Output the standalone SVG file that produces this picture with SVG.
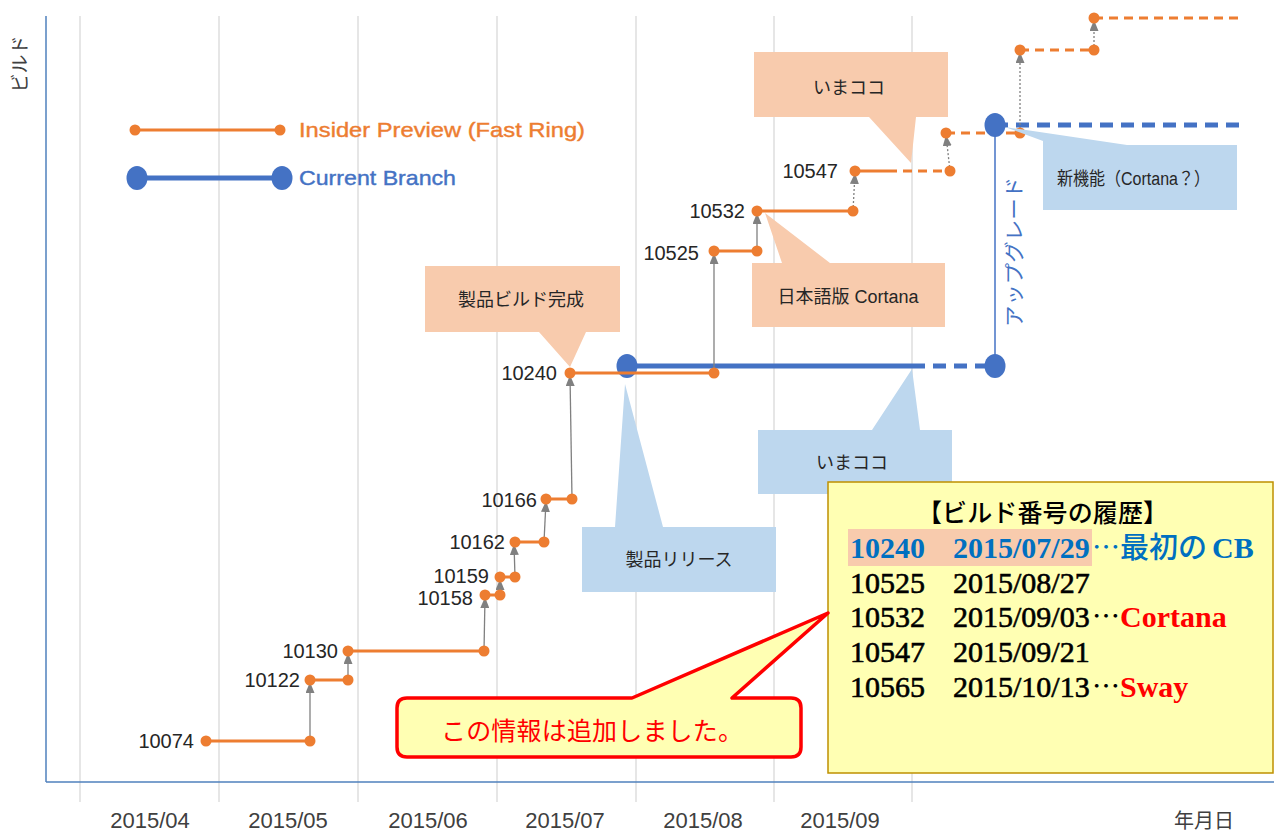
<svg xmlns="http://www.w3.org/2000/svg" width="1274" height="831" viewBox="0 0 1274 831" xml:lang="ja">
<defs>
<marker id="ah" markerUnits="userSpaceOnUse" viewBox="0 0 11 9" markerWidth="11" markerHeight="9" refX="11" refY="4.5" orient="auto">
<path d="M0,0 L11,4.5 L0,9 z" fill="#808080"/>
</marker>
<style>
.grid{stroke:#d9d9d9;stroke-width:1.3}
.axis{stroke:#4f81bd;stroke-width:1.5}
.o{stroke:#ed7d31;stroke-width:3;fill:none}
.od{stroke-dasharray:9 6}
.b{stroke:#4472c4;stroke-width:5;fill:none}
.bd{stroke-dasharray:13 8}
.dot{fill:#ed7d31}
.bdot{fill:#4472c4}
.arr{stroke:#808080;stroke-width:1.3;fill:none;marker-end:url(#ah)}
.arrd{stroke-dasharray:2 2}
.sans{font-family:"Liberation Sans","Noto Sans CJK JP",sans-serif}
.lbl{font-size:20px;fill:#262626;text-anchor:end}
.mon{font-size:22px;fill:#404040;text-anchor:middle}
.peach{fill:#f8cbad}
.blue{fill:#bdd7ee}
.ct{font-size:18px;fill:#262626;text-anchor:middle}
.tbl{font-family:"Liberation Serif","Noto Sans CJK JP",serif;font-size:30px;font-weight:normal;fill:#000;stroke:#000;stroke-width:0.6}
.tblb{fill:#0070c0;stroke:#0070c0;font-weight:bold;stroke-width:0}
.ell{font-family:"Noto Sans CJK JP",sans-serif;font-weight:normal;font-size:28px;stroke-width:0}
.red{fill:#ff0000;stroke:none;font-weight:bold}
</style>
</defs>

<g id="grid">
<line class="grid" x1="80" y1="16" x2="80" y2="802"/>
<line class="grid" x1="219" y1="16" x2="219" y2="802"/>
<line class="grid" x1="358" y1="16" x2="358" y2="802"/>
<line class="grid" x1="497" y1="16" x2="497" y2="802"/>
<line class="grid" x1="636" y1="16" x2="636" y2="802"/>
<line class="grid" x1="774" y1="16" x2="774" y2="802"/>
<line class="grid" x1="912" y1="16" x2="912" y2="802"/>
</g>
<g id="axes">
<line class="axis" x1="46" y1="16" x2="46" y2="782"/>
<line class="axis" x1="46" y1="782" x2="1274" y2="782"/>
<text class="sans" font-size="19" fill="#404040" text-anchor="middle" transform="translate(27,64) rotate(-90)">ビルド</text>
<g class="sans mon">
<text x="150" y="828">2015/04</text>
<text x="288" y="828">2015/05</text>
<text x="428" y="828">2015/06</text>
<text x="565" y="828">2015/07</text>
<text x="703" y="828">2015/08</text>
<text x="840" y="828">2015/09</text>
<text x="1204" y="828" style="font-size:20px">年月日</text>
</g>
</g>

<g id="legend">
<line class="o" x1="135" y1="130" x2="280" y2="130"/>
<circle class="dot" cx="135" cy="130" r="5.5"/>
<circle class="dot" cx="280" cy="130" r="5.5"/>
<text class="sans" x="299" y="137" font-size="21" fill="#ed7d31" stroke="#ed7d31" stroke-width="0.4" textLength="286" lengthAdjust="spacingAndGlyphs">Insider Preview (Fast Ring)</text>
<line class="b" x1="137" y1="178" x2="282" y2="178"/>
<ellipse class="bdot" cx="137" cy="178" rx="10.5" ry="12"/>
<ellipse class="bdot" cx="282" cy="178" rx="10.5" ry="12"/>
<text class="sans" x="299" y="185" font-size="21" fill="#4472c4" stroke="#4472c4" stroke-width="0.4" textLength="157" lengthAdjust="spacingAndGlyphs">Current Branch</text>
</g>

<g id="connectors">
<line class="b" x1="627" y1="366" x2="912" y2="366"/>
<line class="b bd" x1="912" y1="366" x2="995" y2="366"/>
<line class="b bd" x1="995" y1="125" x2="1240" y2="125"/>
<line x1="995" y1="125" x2="995" y2="366" stroke="#4472c4" stroke-width="1.5"/>
<ellipse class="bdot" cx="627" cy="366" rx="10.5" ry="12"/>
<ellipse class="bdot" cx="995" cy="366" rx="10.5" ry="12"/>

<line class="o" x1="206" y1="741" x2="310" y2="741"/>
<line class="o" x1="310" y1="680" x2="348" y2="680"/>
<line class="o" x1="348" y1="651" x2="484" y2="651"/>
<line class="o" x1="485" y1="595" x2="500" y2="595"/>
<line class="o" x1="500" y1="577" x2="515" y2="577"/>
<line class="o" x1="515" y1="542" x2="544" y2="542"/>
<line class="o" x1="546" y1="499" x2="572" y2="499"/>
<line class="o" x1="570" y1="373" x2="714" y2="373"/>
<line class="o" x1="714" y1="251" x2="757" y2="251"/>
<line class="o" x1="757" y1="211" x2="853" y2="211"/>
<line class="o" x1="855" y1="171" x2="888" y2="171"/>
<line class="o od" x1="888" y1="171" x2="950" y2="171"/>
<line class="o od" x1="946" y1="133" x2="1020" y2="133"/>
<line class="o od" x1="1020" y1="50" x2="1094" y2="50"/>
<line class="o od" x1="1094" y1="18" x2="1240" y2="18"/>
<ellipse class="bdot" cx="995" cy="125" rx="10.5" ry="12"/>

<line class="arr" x1="310" y1="741" x2="310" y2="682"/>
<line class="arr" x1="348" y1="680" x2="348" y2="653"/>
<line class="arr" x1="484" y1="651" x2="485" y2="597"/>
<line class="arr" x1="500" y1="595" x2="500" y2="579"/>
<line class="arr" x1="515" y1="577" x2="514" y2="544"/>
<line class="arr" x1="544" y1="542" x2="546" y2="501"/>
<line class="arr" x1="572" y1="499" x2="570" y2="375"/>
<line class="arr" x1="714" y1="373" x2="714" y2="253"/>
<line class="arr" x1="757" y1="251" x2="757" y2="213"/>
<line class="arr arrd" x1="853" y1="211" x2="855" y2="173"/>
<line class="arr arrd" x1="950" y1="171" x2="946" y2="135"/>
<line class="arr arrd" x1="1020" y1="133" x2="1020" y2="52"/>
<line class="arr arrd" x1="1094" y1="50" x2="1094" y2="20"/>
</g>

<g id="points">
<circle class="dot" cx="206" cy="741" r="5.5"/>
<circle class="dot" cx="310" cy="741" r="5.5"/>
<circle class="dot" cx="310" cy="680" r="5.5"/>
<circle class="dot" cx="348" cy="680" r="5.5"/>
<circle class="dot" cx="348" cy="651" r="5.5"/>
<circle class="dot" cx="484" cy="651" r="5.5"/>
<circle class="dot" cx="485" cy="595" r="5.5"/>
<circle class="dot" cx="500" cy="595" r="5.5"/>
<circle class="dot" cx="500" cy="577" r="5.5"/>
<circle class="dot" cx="515" cy="577" r="5.5"/>
<circle class="dot" cx="515" cy="542" r="5.5"/>
<circle class="dot" cx="544" cy="542" r="5.5"/>
<circle class="dot" cx="546" cy="499" r="5.5"/>
<circle class="dot" cx="572" cy="499" r="5.5"/>
<circle class="dot" cx="570" cy="373" r="5.5"/>
<circle class="dot" cx="714" cy="373" r="5.5"/>
<circle class="dot" cx="714" cy="251" r="5.5"/>
<circle class="dot" cx="757" cy="251" r="5.5"/>
<circle class="dot" cx="757" cy="211" r="5.5"/>
<circle class="dot" cx="853" cy="211" r="5.5"/>
<circle class="dot" cx="855" cy="171" r="5.5"/>
<circle class="dot" cx="950" cy="171" r="5.5"/>
<circle class="dot" cx="946" cy="133" r="5.5"/>
<circle class="dot" cx="1020" cy="133" r="5.5"/>
<circle class="dot" cx="1020" cy="50" r="5.5"/>
<circle class="dot" cx="1094" cy="50" r="5.5"/>
<circle class="dot" cx="1094" cy="18" r="5.5"/>
</g>

<g id="labels" class="sans lbl">
<text x="194" y="748">10074</text>
<text x="300" y="687">10122</text>
<text x="338" y="658">10130</text>
<text x="473" y="605">10158</text>
<text x="489" y="583">10159</text>
<text x="505" y="549">10162</text>
<text x="537" y="507">10166</text>
<text x="557" y="380">10240</text>
<text x="699" y="260">10525</text>
<text x="745" y="218">10532</text>
<text x="838" y="178">10547</text>
</g>

<text class="sans" font-size="20" fill="#4472c4" text-anchor="middle" textLength="150" lengthAdjust="spacingAndGlyphs" transform="translate(1022,252) rotate(-90)">アップグレード</text>

<g id="callout-imakoko-top">
<path class="peach" d="M754,52 H948 V117 H916 L911,163 L869,117 H754 z"/>
<text class="sans ct" x="849" y="94">いまココ</text>
</g>
<g id="callout-build">
<path class="peach" d="M425,266 H620 V332 H586 L570,367 L539,332 H425 z"/>
<text class="sans ct" x="521" y="306">製品ビルド完成</text>
</g>
<g id="callout-cortana-jp">
<path class="peach" d="M752,263 H782 L765,213 L830,263 H945 V327 H752 z"/>
<text class="sans ct" x="848" y="303">日本語版 Cortana</text>
</g>
<g id="callout-release">
<path class="blue" d="M582,527 H615 L625,384 L663,527 H776 V592 H582 z"/>
<text class="sans ct" x="679" y="566">製品リリース</text>
</g>
<g id="callout-imakoko-bottom">
<path class="blue" d="M758,430 H872 L912,369 L920,430 H952 V494 H758 z"/>
<text class="sans ct" x="852" y="469">いまココ</text>
</g>
<g id="callout-newfeature">
<path class="blue" d="M1043,145 H1127 L1005,127 L1043,141 z M1043,145 H1237 V210 H1043 z"/>
<text class="sans" x="1057" y="185" font-size="18" fill="#262626" textLength="153" lengthAdjust="spacingAndGlyphs">新機能（Cortana？）</text>
</g>

<g id="history-box">
<rect x="828" y="482" width="445" height="291" fill="#ffffb3" stroke="#bf9000" stroke-width="1.5"/>
<text x="917" y="522" font-family="Noto Sans CJK JP, sans-serif" font-size="25" font-weight="500" fill="#000" textLength="251">【ビルド番号の履歴】</text>
<rect x="848" y="529" width="244" height="37" fill="#f8cbad"/>
<text class="tbl tblb" y="558"><tspan x="850">10240</tspan><tspan x="953">2015/07/29</tspan><tspan x="1092" class="ell">…</tspan><tspan x="1120" style="font-family:'Noto Sans CJK JP',sans-serif;font-weight:500;font-size:29px">最初の</tspan><tspan x="1212">CB</tspan></text>
<text class="tbl" y="593"><tspan x="850">10525</tspan><tspan x="953">2015/08/27</tspan></text>
<text class="tbl" y="627"><tspan x="850">10532</tspan><tspan x="953">2015/09/03</tspan><tspan x="1092" class="ell">…</tspan><tspan x="1120" class="red">Cortana</tspan></text>
<text class="tbl" y="662"><tspan x="850">10547</tspan><tspan x="953">2015/09/21</tspan></text>
<text class="tbl" y="697"><tspan x="850">10565</tspan><tspan x="953">2015/10/13</tspan><tspan x="1092" class="ell">…</tspan><tspan x="1120" class="red">Sway</tspan></text>
</g>

<g id="note-callout">
<path d="M407,698 H632 L828,613 L732,698 H791 Q801,698 801,708 V747 Q801,757 791,757 H407 Q397,757 397,747 V708 Q397,698 407,698 z" fill="#ffffb3" stroke="#ff0000" stroke-width="3.5" stroke-linejoin="round"/>
<text x="441" y="740" font-family="Noto Sans CJK JP, sans-serif" font-size="25" fill="#ff0000" textLength="302">この情報は追加しました。</text>
</g>
</svg>
